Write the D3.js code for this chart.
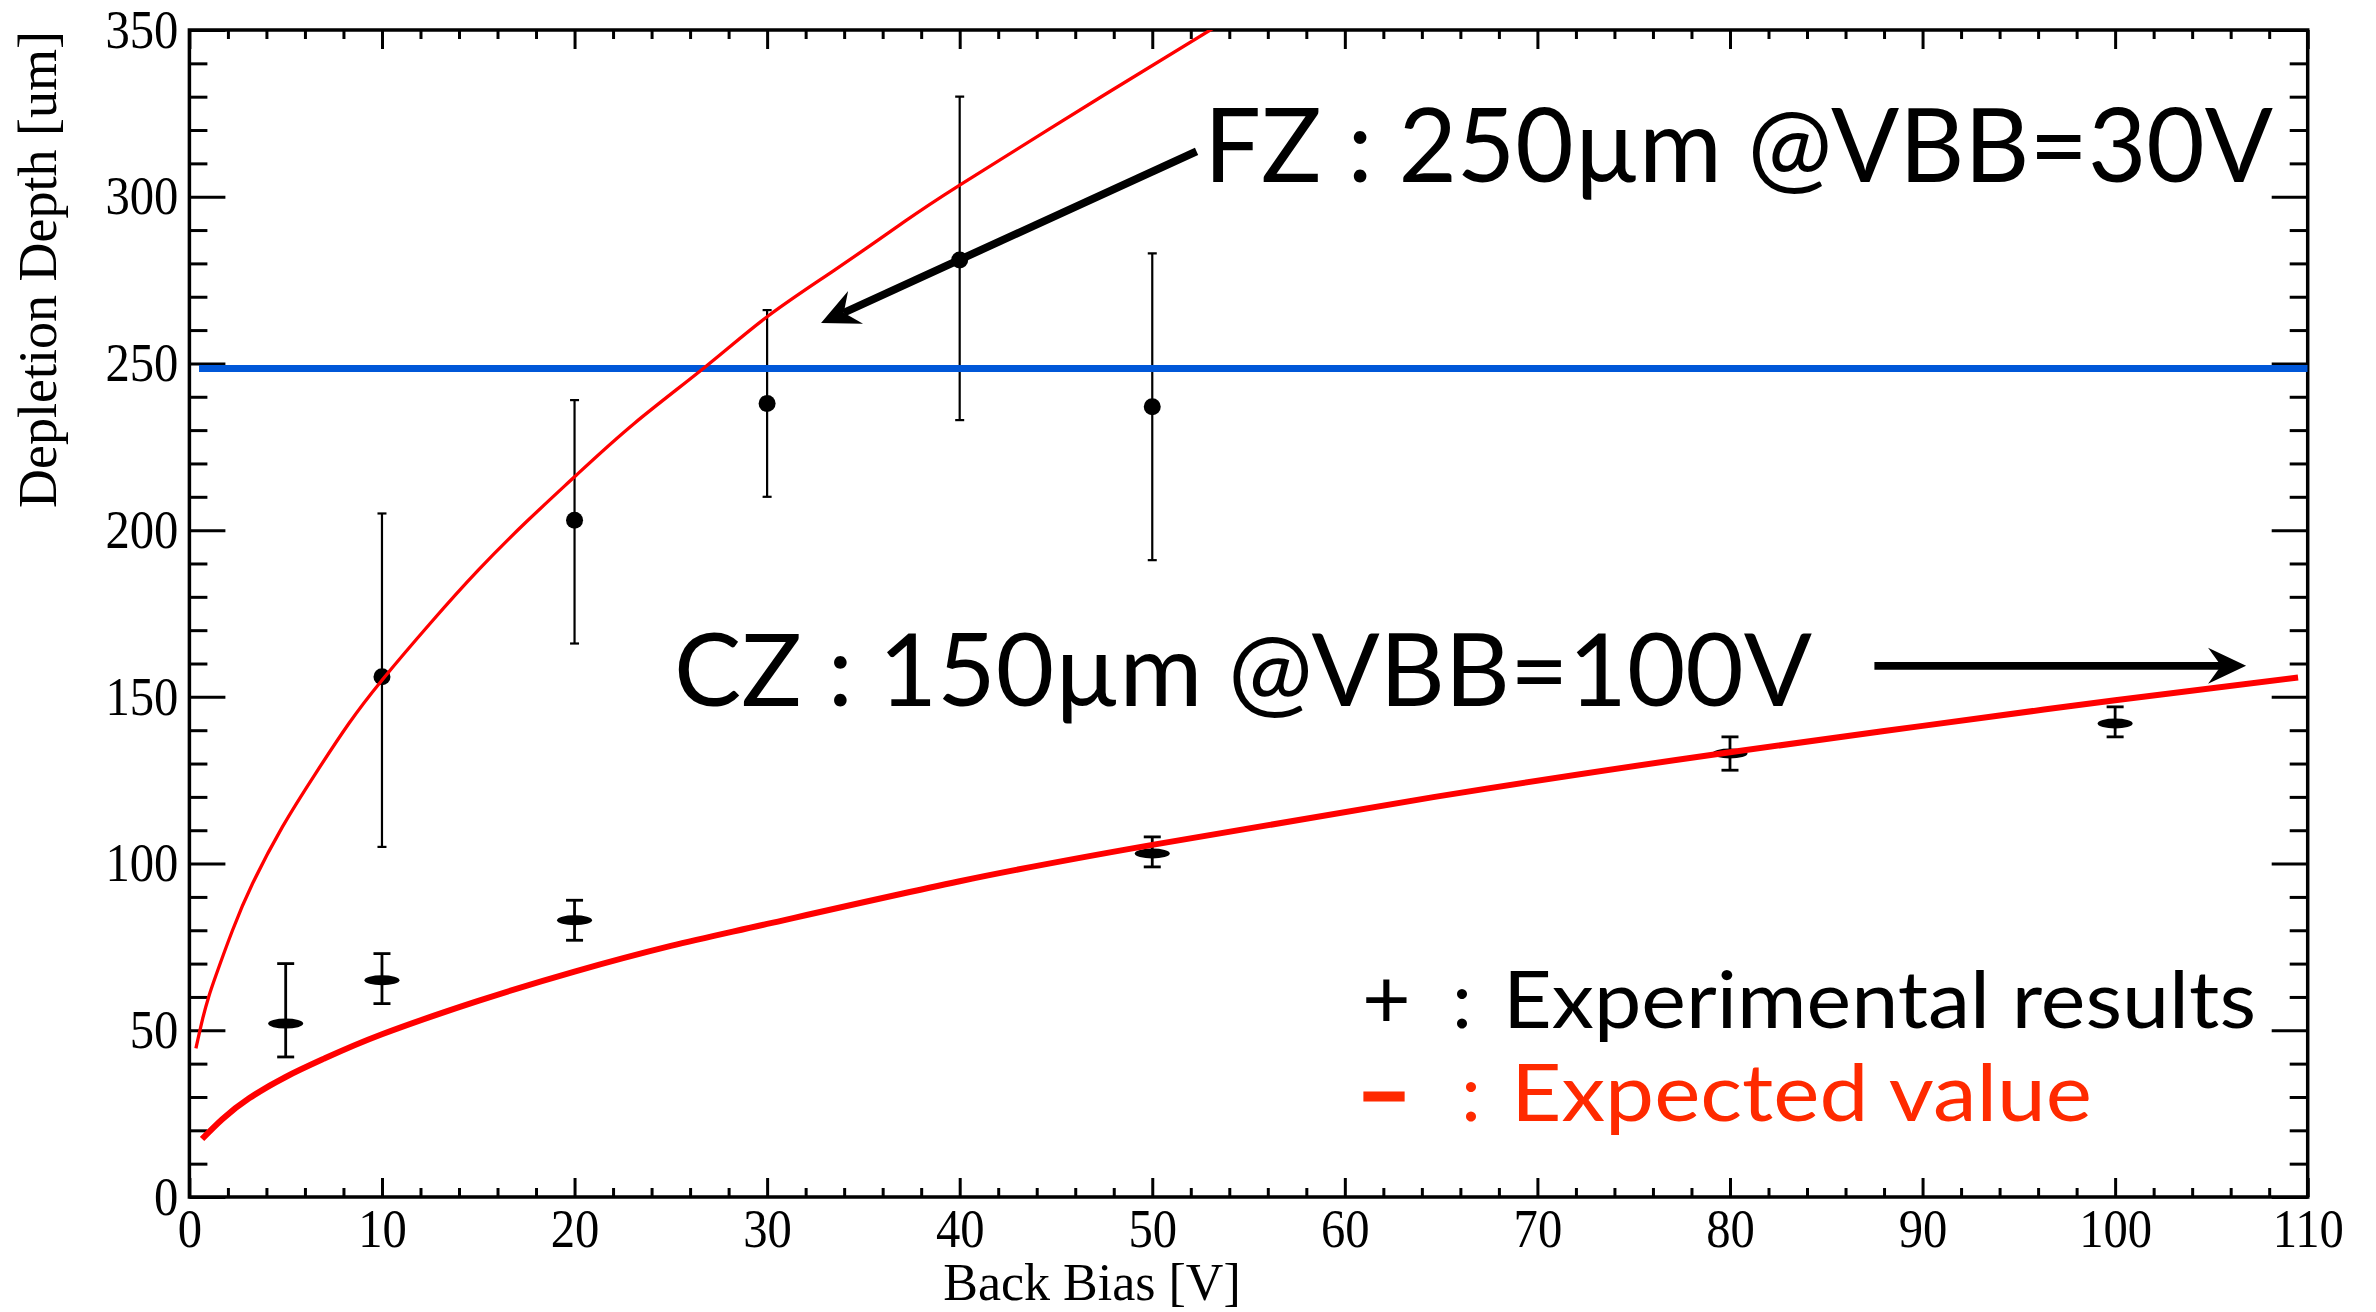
<!DOCTYPE html>
<html>
<head>
<meta charset="utf-8">
<script src="https://cdn.jsdelivr.net/npm/d3@7"></script>
<style>
  html, body { margin: 0; padding: 0; background: #fff; }
  svg { display: block; }
</style>
</head>
<body>
<svg id="chart"></svg>
<script>
// FZ measurements (round markers) with error bars
const fzBias  = [10, 20, 30, 40, 50];
const fzDepth = [156, 203, 238, 281, 237];
const fzHigh  = [205, 239, 266, 330, 283];
const fzLow   = [105, 166, 210, 233, 191];

// CZ measurements (flat markers) with error bars
const czBias  = [5, 10, 20, 50, 80, 100];
const czDepth = [52, 65, 83, 103, 133, 142];
const czHigh  = [70, 73, 89, 108, 138, 147];
const czLow   = [42, 58, 77, 99, 128, 138];

// expected depletion curves
const fzCurveBias  = [0.34, 0.69, 1.0, 1.38, 2.24, 3.28, 4.83, 6.55, 8.28, 10, 12.5, 15, 17.5, 20, 23.1, 26.8, 30, 33.5, 37, 40, 47.5, 53.3];
const fzCurveDepth = [44.6, 53.5, 60, 66.5, 80, 94, 111, 127, 142, 155, 172, 188, 202.5, 216, 232, 249, 264, 278, 292, 303.5, 330.5, 351];
const czCurveBias  = [0.66, 1.72, 3.1, 5, 7, 10, 15, 20, 25, 30, 40, 50, 65, 80, 90, 100, 109.5];
const czCurveDepth = [17.4, 23.4, 29.6, 36, 41.5, 48.8, 58.8, 67.6, 75.3, 81.9, 94.7, 105.6, 120.3, 133.4, 141.3, 149, 155.8];

// wafer thickness line
const thicknessDepth = 248.5;
const thicknessBias  = [0.5, 110];

// annotation arrows [tail, tip] in data units
const fzArrow = [[52.3, 313.6], [32.8, 262.1]];
const czArrow = [[87.5, 159.3], [106.8, 159.3]];

const xTicks = [0, 10, 20, 30, 40, 50, 60, 70, 80, 90, 100, 110];
const yTicks = [0, 50, 100, 150, 200, 250, 300, 350];

const W = 2376, H = 1312;
const svg = d3.select('#chart').attr('width', W).attr('height', H);
svg.append('rect').attr('width', W).attr('height', H).attr('fill', '#fff');

const x = d3.scaleLinear().domain([0, 110]).range([189.4, 2307.7]);
const y = d3.scaleLinear().domain([0, 350]).range([1197, 30]);

const xMinor = d3.range(0, 111, 2).filter(v => v % 10 !== 0);
const yMinor = d3.range(0, 351, 10).filter(v => v % 50 !== 0);

function addAxis(gen, transform, values, size, pad, labels) {
    const g = svg.append('g')
        .attr('transform', transform)
        .call(gen.tickValues(values).tickSize(size).tickSizeOuter(0)
            .tickPadding(pad).tickFormat(labels ? d3.format('d') : ''));
    g.select('.domain').remove();
    g.selectAll('line').attr('stroke', '#000').attr('stroke-width', 3);
    g.attr('font-family', '"Liberation Serif", "Times New Roman", serif')
     .attr('font-size', 54);
    g.selectAll('text').attr('fill', '#000');
    return g;
}

addAxis(d3.axisBottom(x), 'translate(0,1197)', xTicks, -19, 12, true);
addAxis(d3.axisBottom(x), 'translate(0,1197)', xMinor, -9, 12, false);
addAxis(d3.axisTop(x), 'translate(0,30)', xTicks, -19, 0, false);
addAxis(d3.axisTop(x), 'translate(0,30)', xMinor, -9, 0, false);
addAxis(d3.axisLeft(y), 'translate(189.4,0)', yTicks, -36, 11, true);
addAxis(d3.axisLeft(y), 'translate(189.4,0)', yMinor, -18, 11, false);
addAxis(d3.axisRight(y), 'translate(2307.7,0)', yTicks, -36, 0, false);
addAxis(d3.axisRight(y), 'translate(2307.7,0)', yMinor, -18, 0, false);

// the tick numbers are a bit narrower than plain Times
svg.selectAll('.tick text').each(function () {
    const w = this.getComputedTextLength();
    if (w > 0) d3.select(this).attr('textLength', w * 0.9).attr('lengthAdjust', 'spacingAndGlyphs');
});

svg.append('rect')
    .attr('x', x(0)).attr('y', y(350))
    .attr('width', x(110) - x(0)).attr('height', y(0) - y(350))
    .attr('fill', 'none').attr('stroke', '#000').attr('stroke-width', 3.5);

svg.append('clipPath').attr('id', 'plot')
    .append('rect')
    .attr('x', x(0)).attr('y', y(350))
    .attr('width', x(110) - x(0)).attr('height', y(0) - y(350));

const plot = svg.append('g').attr('clip-path', 'url(#plot)');

// error bars + markers
function errorBars(bias, low, high, halfCap, width) {
    const g = plot.append('g').attr('stroke', '#000').attr('stroke-width', width);
    bias.forEach((v, i) => {
        g.append('line').attr('x1', x(v)).attr('x2', x(v)).attr('y1', y(low[i])).attr('y2', y(high[i]));
        g.append('line').attr('x1', x(v) - halfCap).attr('x2', x(v) + halfCap).attr('y1', y(low[i])).attr('y2', y(low[i]));
        g.append('line').attr('x1', x(v) - halfCap).attr('x2', x(v) + halfCap).attr('y1', y(high[i])).attr('y2', y(high[i]));
    });
}
errorBars(fzBias, fzLow, fzHigh, 4.5, 2.2);
errorBars(czBias, czLow, czHigh, 8.5, 2.8);

plot.append('g').selectAll('circle')
    .data(fzBias)
    .join('circle')
    .attr('cx', d => x(d))
    .attr('cy', (d, i) => y(fzDepth[i]))
    .attr('r', 8.5)
    .attr('fill', '#000');

plot.append('g').selectAll('ellipse')
    .data(czBias)
    .join('ellipse')
    .attr('cx', d => x(d))
    .attr('cy', (d, i) => y(czDepth[i]))
    .attr('rx', 17.5).attr('ry', 5)
    .attr('fill', '#000');

// thickness line
plot.append('line')
    .attr('x1', x(thicknessBias[0])).attr('x2', x(thicknessBias[1]))
    .attr('y1', y(thicknessDepth)).attr('y2', y(thicknessDepth))
    .attr('stroke', '#0057d8').attr('stroke-width', 7);

// expected curves
const line = d3.line()
    .x(d => x(d[0]))
    .y(d => y(d[1]))
    .curve(d3.curveNatural);

plot.append('path')
    .datum(fzCurveBias.map((v, i) => [v, fzCurveDepth[i]]))
    .attr('fill', 'none').attr('stroke', '#ff0000').attr('stroke-width', 3.3)
    .attr('d', line);

plot.append('path')
    .datum(czCurveBias.map((v, i) => [v, czCurveDepth[i]]))
    .attr('fill', 'none').attr('stroke', '#ff0000').attr('stroke-width', 6)
    .attr('d', line);

// arrows
function arrow(a) {
    const x0 = x(a[0][0]), y0 = y(a[0][1]), x1 = x(a[1][0]), y1 = y(a[1][1]);
    const len = Math.hypot(x0 - x1, y0 - y1);
    const ux = (x0 - x1) / len, uy = (y0 - y1) / len;
    const nx = -uy, ny = ux;
    const L = 38, hw = 18, notch = 25;
    svg.append('line')
        .attr('x1', x0).attr('y1', y0)
        .attr('x2', x1 + ux * notch).attr('y2', y1 + uy * notch)
        .attr('stroke', '#000').attr('stroke-width', 7.8);
    const pts = [
        [x1, y1],
        [x1 + ux * L + nx * hw, y1 + uy * L + ny * hw],
        [x1 + ux * notch, y1 + uy * notch],
        [x1 + ux * L - nx * hw, y1 + uy * L - ny * hw]
    ];
    svg.append('path').attr('d', 'M' + pts.join('L') + 'Z').attr('fill', '#000');
}
arrow(fzArrow);
arrow(czArrow);

// annotations
const sans = 'Lato, "Open Sans", sans-serif';
function label(txt, px, py, size, len, color, weight) {
    const t = svg.append('text')
        .attr('x', px).attr('y', py)
        .attr('font-family', sans).attr('font-size', size)
        .attr('font-weight', weight || 'normal')
        .attr('fill', color || '#000')
        .text(txt);
    if (len) t.attr('textLength', len).attr('lengthAdjust', 'spacingAndGlyphs');
    return t;
}

label('FZ : 250\u00B5m @VBB=30V', 1204, 182, 103, 1069);
label('CZ : 150\u00B5m @VBB=100V', 674, 706, 101, 1138);

label('+', 1362, 1027.7, 84);
label(':', 1452, 1027.7, 80);
label('Experimental results', 1503, 1027.7, 80, 753);

const red = '#ff2a00';
label('\u2013', 1357, 1120.7, 80, 54, red, 'bold')
    .attr('stroke', red).attr('stroke-width', 3);
label(':', 1461, 1120.7, 80, null, red);
label('Expected value', 1511, 1120.7, 80, 581, red);

// axis titles
svg.append('text')
    .attr('transform', 'translate(56,31) rotate(-90)')
    .attr('text-anchor', 'end')
    .attr('font-family', '"Liberation Serif", "Times New Roman", serif')
    .attr('font-size', 54)
    .attr('fill', '#000')
    .text('Depletion Depth [um]');

svg.append('text')
    .attr('x', 1092).attr('y', 1300)
    .attr('text-anchor', 'middle')
    .attr('font-family', '"Liberation Serif", "Times New Roman", serif')
    .attr('font-size', 52)
    .attr('fill', '#000')
    .text('Back Bias [V]');
</script>
</body>
</html>
